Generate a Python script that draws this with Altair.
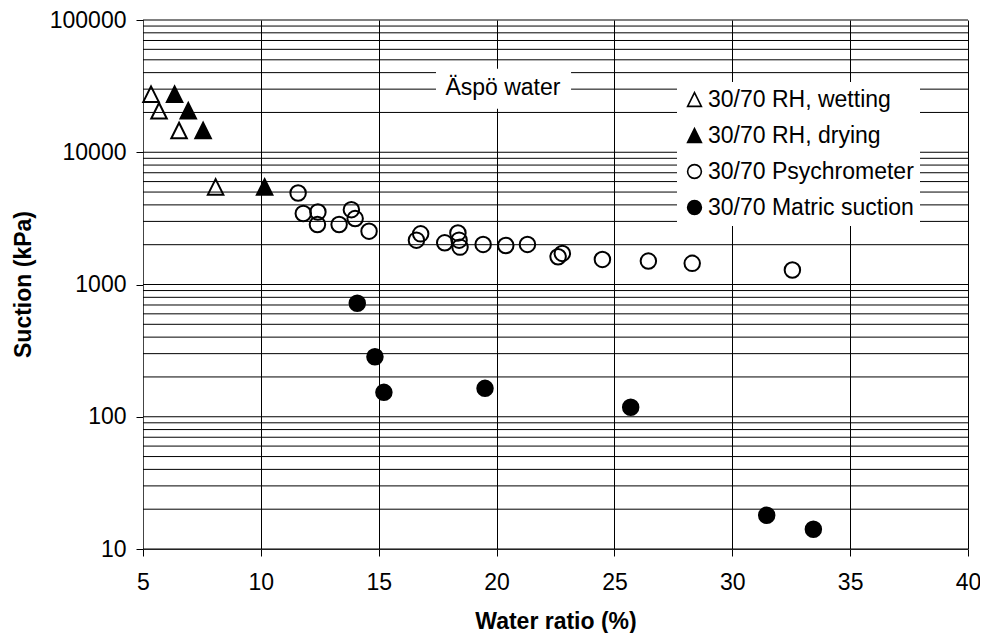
import altair as alt
import pandas as pd

FONT = "Liberation Sans"

# ---- data ----
series_order = ["30/70 RH, wetting", "30/70 RH, drying",
                "30/70 Psychrometer", "30/70 Matric suction"]

wet_x = [5.34, 5.68, 6.53, 8.08]
wet_y = [27500, 20600, 14600, 5470]

dry_x = [6.34, 6.92, 7.55, 10.16]
dry_y = [27500, 20600, 14600, 5470]

psy_x = [11.58, 11.80, 12.42, 12.40, 13.32, 13.84, 14.00, 14.59, 16.78, 16.60,
         17.80, 18.36, 18.41, 18.45, 19.43, 20.39, 21.31, 22.79, 22.61, 24.49,
         26.44, 28.30, 32.55]
psy_y = [4920, 3440, 3535, 2840, 2840, 3680, 3150, 2530, 2415, 2165,
         2065, 2455, 2165, 1917, 2009, 1973, 2009, 1718, 1620, 1548,
         1503, 1445, 1286]

mat_x = [14.09, 14.84, 15.22, 19.51, 25.69, 31.46, 33.44]
mat_y = [721, 284, 153, 164, 118, 18.0, 14.1]

x_ticks = [5, 10, 15, 20, 25, 30, 35, 40]
y_ticks = [10, 100, 1000, 10000, 100000]
y_grid = [10, 20, 30, 40, 50, 60, 70, 80, 90,
          100, 200, 300, 400, 500, 600, 700, 800, 900,
          1000, 2000, 3000, 4000, 5000, 6000, 7000, 8000, 9000,
          10000, 20000, 30000, 40000, 50000, 60000, 70000, 80000, 90000,
          100000]

note_text = ["Äspö water"]
note_pos = {"x": [20.27], "y": [30700]}
note_box = {"x": [17.43], "x2": [23.16], "y": [42750], "y2": [21370]}

TRI = "M0,-1L1,1L-1,1Z"
shapes = [TRI, TRI, "circle", "circle"]
fills = ["transparent", "black", "transparent", "black"]
strokes = ["black", "black", "black", "black"]

rows = []
for name, xs, ys in zip(series_order, [wet_x, dry_x, psy_x, mat_x],
                        [wet_y, dry_y, psy_y, mat_y]):
    for a, b in zip(xs, ys):
        rows.append({"x": a, "y": b, "series": name})
df = pd.DataFrame(rows)

FS = 23
x_scale = alt.Scale(domain=[5, 40], nice=False, zero=False)
y_scale = alt.Scale(type="log", domain=[10, 100000], nice=False)

x_axis = alt.Axis(title="Water ratio (%)", values=x_ticks, grid=True,
                  gridColor="black", gridOpacity=1, gridWidth=1,
                  tickSize=7, tickColor="black", domainColor="#444",
                  labelPadding=15, labelFontSize=FS, labelColor="black",
                  labelFlush=False, labelFont=FONT,
                  titleFontSize=FS, titleFontWeight="bold", titleColor="black",
                  titleFont=FONT, titleY=72, titleBaseline="middle")
y_axis = alt.Axis(title="Suction (kPa)", values=y_ticks, format="d", grid=False,
                  tickSize=7, tickColor="black", domainColor="#444",
                  labelPadding=10, labelFontSize=FS, labelColor="black",
                  labelFlush=False, labelFont=FONT,
                  titleFontSize=FS, titleFontWeight="bold", titleColor="black",
                  titleFont=FONT, titleX=-120, titleY=264,
                  titleBaseline="middle", titleAlign="center")

X = alt.X("x:Q", scale=x_scale, axis=x_axis)
Y = alt.Y("y:Q", scale=y_scale, axis=y_axis)

grid = alt.Chart(pd.DataFrame({"y": y_grid})).mark_rule(
    color="black", strokeWidth=1).encode(y=Y)

legend = alt.Legend(title=None, orient="none", legendX=534, legendY=62,
                    fillColor="white", padding=6, labelFontSize=FS,
                    labelFont=FONT, labelColor="black", labelLimit=400,
                    symbolSize=190, symbolStrokeWidth=1.6,
                    rowPadding=12, labelOffset=2)

points = alt.Chart(df).mark_point(filled=True, size=240,
                                  strokeWidth=2, opacity=1).encode(
    x=X, y=Y,
    shape=alt.Shape("series:N", scale=alt.Scale(domain=series_order, range=shapes),
                    legend=legend),
    fill=alt.Fill("series:N", scale=alt.Scale(domain=series_order, range=fills),
                  legend=legend),
    stroke=alt.Stroke("series:N", scale=alt.Scale(domain=series_order, range=strokes),
                      legend=legend),
)

box = alt.Chart(pd.DataFrame(note_box)).mark_rect(fill="white").encode(
    x=X, x2="x2:Q", y=Y, y2="y2:Q")

note = alt.Chart(pd.DataFrame({"x": note_pos["x"], "y": note_pos["y"],
                               "t": note_text})).mark_text(
    fontSize=FS, font=FONT, color="black", align="center",
    baseline="middle").encode(x=X, y=Y, text="t:N")

chart = alt.layer(grid, box, note, points).properties(
    width=825, height=529,
    padding={"left": 135, "top": 12, "right": 12, "bottom": 84},
    autosize=alt.AutoSizeParams(type="none"),
).configure(font=FONT).configure_view(stroke=None)

chart.save("out.html", embed_options={"renderer": "svg", "actions": False})
